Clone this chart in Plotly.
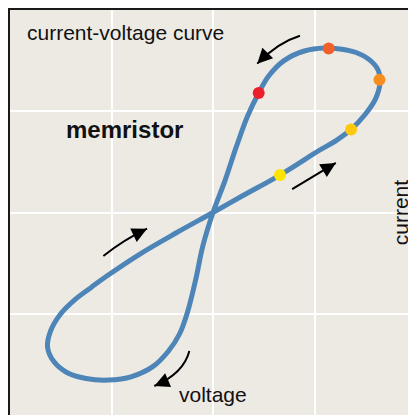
import plotly.graph_objects as go

# Pinched hysteresis loop (voltage, current)
voltage = [0.00, 0.30, 0.66, 1.05, 1.22, 1.36, 1.50, 1.60, 1.645, 1.625, 1.54, 1.41, 1.25, 1.10, 0.90, 0.70, 0.55, 0.45, 0.34, 0.23, 0.12,
           0.00, -0.10, -0.17, -0.25, -0.33, -0.44, -0.59, -0.80, -1.03, -1.25, -1.44, -1.57, -1.63, -1.60, -1.50, -1.36, -1.20, -1.05, -0.72, -0.36, 0.00]
current = [0.00, 0.17, 0.37, 0.615, 0.715, 0.82, 0.97, 1.12, 1.28, 1.41, 1.51, 1.58, 1.615, 1.625, 1.595, 1.50, 1.35, 1.18, 0.95, 0.65, 0.32,
           0.00, -0.33, -0.66, -0.98, -1.20, -1.37, -1.52, -1.62, -1.655, -1.64, -1.58, -1.47, -1.33, -1.17, -1.00, -0.86, -0.74, -0.63, -0.41, -0.20, 0.00]

# Highlighted time points on the curve
dot_v = [0.66, 1.36, 1.64, 1.14, 0.45]
dot_i = [0.37, 0.82, 1.31, 1.62, 1.18]
dot_colors = ["#FFE400", "#FFC80C", "#F78D1E", "#F2602A", "#EA1F2B"]

# Direction arrows: tail, control, head (data units)
arrow_tail = [(0.857, 1.746), (0.78, 0.23), (-1.08, -0.43), (-0.233, -1.368)]
arrow_ctrl = [(0.64, 1.68), (0.995, 0.36), (-0.88, -0.27), (-0.29, -1.59)]
arrow_head = [(0.436, 1.47), (1.21, 0.49), (-0.65, -0.16), (-0.578, -1.714)]

fig = go.Figure()
fig.add_trace(go.Scatter(x=voltage, y=current, mode="lines",
                         line=dict(color="#4D85B8", width=5, shape="spline", smoothing=1.0),
                         hoverinfo="skip", showlegend=False))
fig.add_trace(go.Scatter(x=dot_v, y=dot_i, mode="markers",
                         marker=dict(color=dot_colors, size=12, line=dict(width=0)),
                         showlegend=False))

for (tx, ty), (cx, cy), (hx, hy) in zip(arrow_tail, arrow_ctrl, arrow_head):
    fig.add_shape(type="path", xref="x", yref="y",
                  path=f"M {tx},{ty} Q {cx},{cy} {hx},{hy}",
                  line=dict(color="black", width=2))
    dx, dy = hx - cx, hy - cy
    n = (dx * dx + dy * dy) ** 0.5
    fig.add_annotation(x=hx, y=hy, ax=hx - 0.14 * dx / n, ay=hy - 0.14 * dy / n,
                       xref="x", yref="y", axref="x", ayref="y", text="",
                       font=dict(size=1),
                       showarrow=True, arrowhead=2, arrowsize=1.5, arrowwidth=2,
                       arrowcolor="black")

font = "Liberation Sans, Arial, Helvetica, sans-serif"
fig.add_annotation(x=-1.85, y=1.78, xref="x", yref="y", text="current-voltage curve",
                   showarrow=False, xanchor="left", yanchor="middle",
                   font=dict(family=font, size=21, color="#111"))
fig.add_annotation(x=-1.47, y=0.82, xref="x", yref="y", text="<b>memristor</b>",
                   showarrow=False, xanchor="left", yanchor="middle",
                   font=dict(family=font, size=24, color="#111"))
fig.add_annotation(x=0.0, y=-1.80, xref="x", yref="y", text="voltage",
                   showarrow=False, xanchor="center", yanchor="middle",
                   font=dict(family=font, size=21, color="#111"))
fig.add_annotation(x=1.85, y=0.0, xref="x", yref="y", text="current", textangle=-90,
                   showarrow=False, xanchor="center", yanchor="middle",
                   font=dict(family=font, size=21, color="#111"))

axis = dict(range=[-2, 2], dtick=1, showgrid=True, gridcolor="white", gridwidth=2,
            zeroline=False, showticklabels=False, ticks="", showline=True,
            linecolor="#1a1a1a", linewidth=2)
fig.update_xaxes(**axis, side="top")
fig.update_yaxes(**axis, side="left")
# page body adds an 8px offset, so the figure is 8px smaller than the window
fig.update_layout(width=408, height=407, margin=dict(l=2, r=0, t=2, b=0),
                  paper_bgcolor="white", plot_bgcolor="#EDEAE4")
fig.write_html("out.html")
